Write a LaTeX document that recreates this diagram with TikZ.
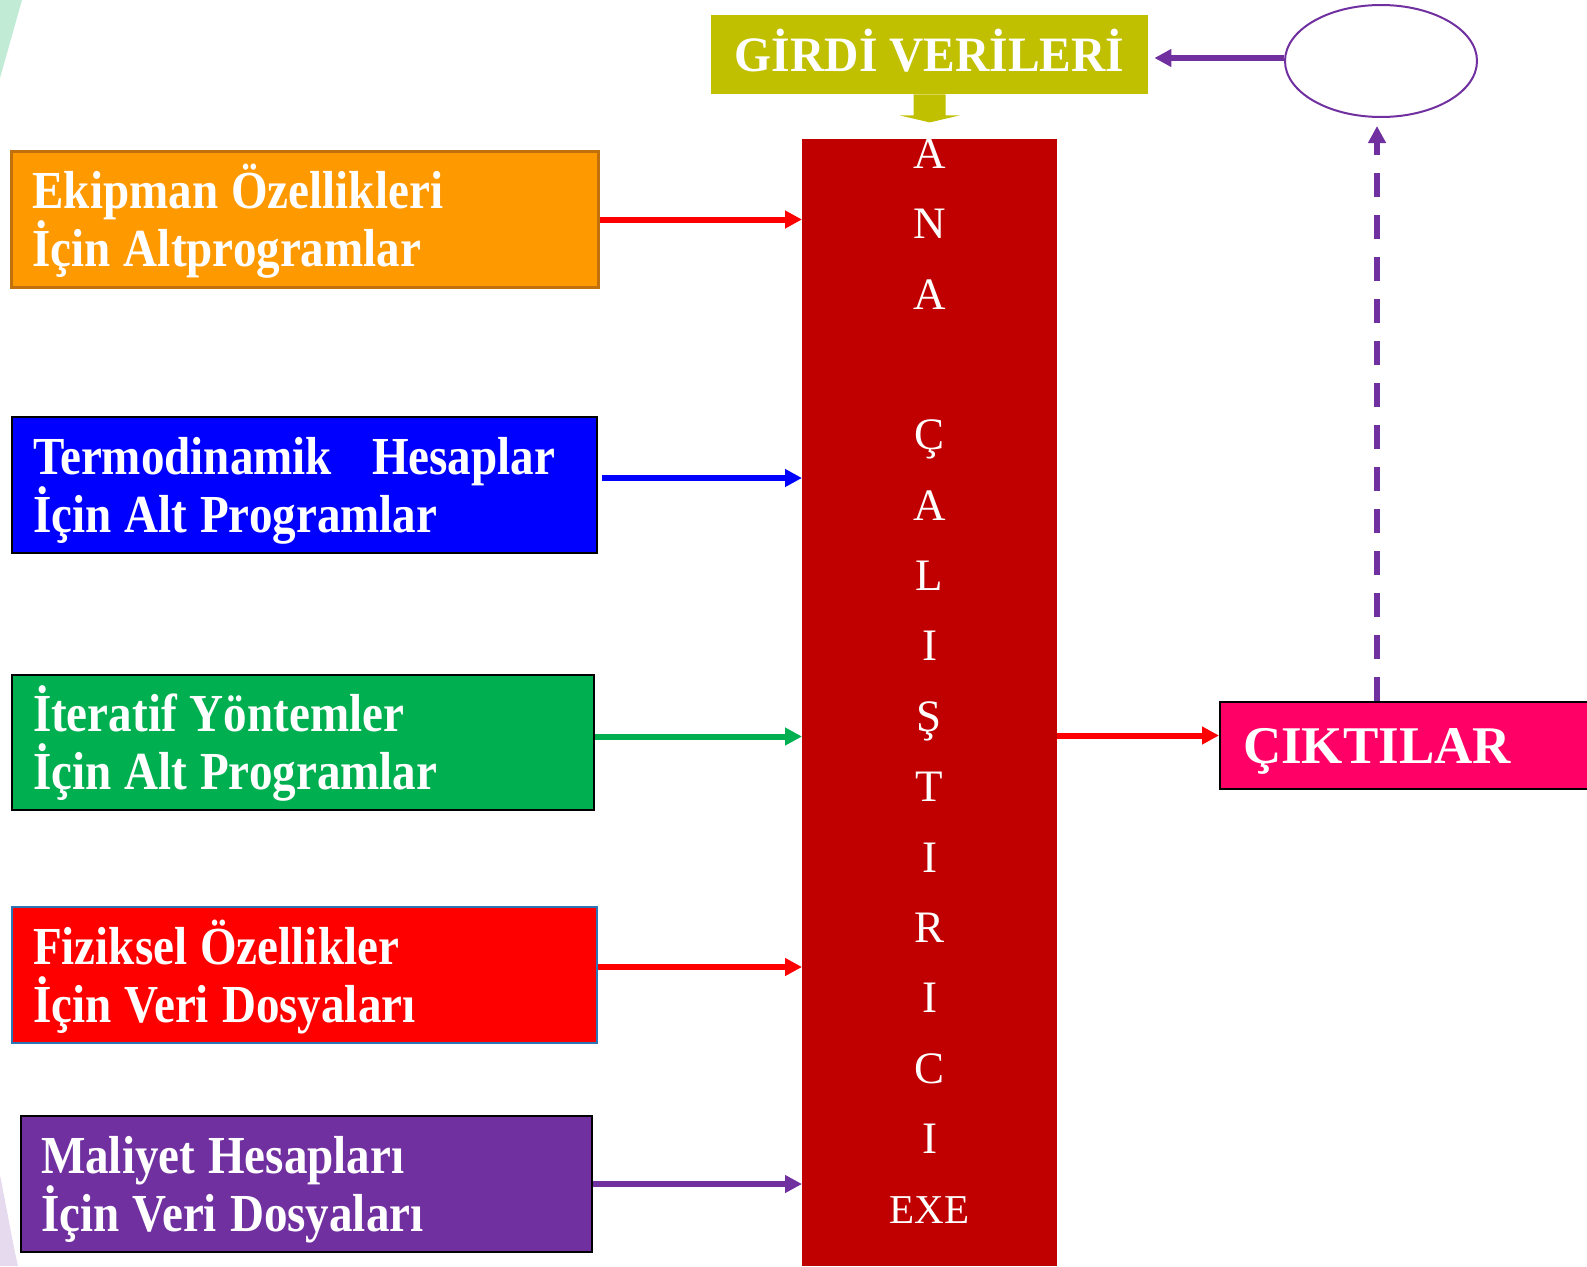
\documentclass[tikz,border=0pt]{standalone}
\usepackage{fontspec}
\setmainfont{Liberation Serif}
\newfontfamily\kutufont[FakeStretch=0.88]{Liberation Serif}
\newfontfamily\girdifont[FakeStretch=0.96]{Liberation Serif}
\newcommand\kutuyazi{\kutufont\bfseries\fontsize{53.5}{58}\selectfont}
\newcommand\ara{\hspace{13pt}}
\usepackage{xcolor}
\usetikzlibrary{arrows.meta,shapes.geometric}

\definecolor{turuncu}{HTML}{FF9900}
\definecolor{turuncukenar}{HTML}{C0700C}
\definecolor{mavi}{HTML}{0000FF}
\definecolor{yesil}{HTML}{00B050}
\definecolor{kirmizi}{HTML}{FF0000}
\definecolor{kenarmavi}{HTML}{2E75B6}
\definecolor{mor}{HTML}{7030A0}
\definecolor{koyukirmizi}{HTML}{C00000}
\definecolor{girdisari}{HTML}{C0C000}
\definecolor{pembe}{HTML}{FF0066}

\begin{document}
\begin{tikzpicture}[x=1pt,y=-1pt,
    kutu/.style={anchor=north west,draw=black,line width=2pt,text=white,
      font=\kutuyazi,align=left,
      inner xsep=21pt,minimum height=136pt,text height=36pt,text depth=58pt},
    harfstil/.style={anchor=base,text=white,inner sep=0pt,
      font=\fontsize{45}{45}\selectfont},
    ok/.style={line width=6pt,-{Triangle[length=17pt,width=17pt]}}]
  \useasboundingbox (0,0) rectangle (1587,1266);

  \fill[yesil!35,opacity=.7] (0,0) -- (22,0) -- (0,78) -- cycle;
  \fill[mor!30,opacity=.6] (0,1175) .. controls (8,1215) and (12,1240) .. (18,1266) -- (0,1266) -- cycle;

  \node[kutu,fill=turuncu,draw=turuncukenar,line width=3pt,
    text width=545pt,minimum width=587pt] (ekipman) at (10,150)
    {Ekipman\ara Özellikleri\\İçin\ara Altprogramlar};
  \node[kutu,fill=mavi,text width=543pt,minimum width=585pt] (termo) at (11,416)
    {Termodinamik\hspace{40pt}Hesaplar\\İçin\ara Alt\ara Programlar};
  \node[kutu,fill=yesil,minimum height=135pt,text width=540pt,minimum width=582pt] (iteratif) at (11,674)
    {İteratif\ara Yöntemler\\İçin\ara Alt\ara Programlar};
  \node[kutu,fill=kirmizi,draw=kenarmavi,text width=543pt,minimum width=585pt] (fiziksel) at (11,906)
    {Fiziksel\ara Özellikler\\İçin\ara Veri\ara Dosyaları};
  \node[kutu,fill=mor,inner xsep=20pt,text width=531pt,minimum width=571pt] (maliyet) at (20,1115)
    {Maliyet\ara Hesapları\\İçin\ara Veri\ara Dosyaları};

  \node[anchor=north west,fill=koyukirmizi,inner sep=0pt,
    minimum width=255pt,minimum height=1127pt] (ana) at (802,139) {};
  \foreach \harf [count=\i from 0] in {A,N,A,{},Ç,A,L,I,Ş,T,I,R,I,C,I}
    \node[harfstil] (harf\i) at (929.5,{168.5+70.35*\i}) {\harf};
  \node[harfstil,font=\fontsize{41}{41}\selectfont] (exe) at (929.5,1223.5) {EXE};

  \node[anchor=north west,fill=girdisari,text=white,inner sep=0pt,
    minimum width=437pt,minimum height=79pt,text height=34pt,text depth=0pt,
    font=\girdifont\bfseries\fontsize{49.5}{49.5}\selectfont] (girdi) at (711,15) {GİRDİ VERİLERİ};
  \fill[girdisari,shift={(girdi.south)}] (-16,0) -- (-16,21) -- (-30,21) -- (0,28)
    -- (30,21) -- (16,21) -- (16,0) -- cycle;

  \node[draw=mor,line width=2pt,ellipse,inner sep=0pt,
    minimum width=192pt,minimum height=112pt] (elips) at (1381,61) {};

  \node[anchor=north west,draw=black,line width=2pt,fill=pembe,text=white,
    align=left,inner xsep=23pt,text width=400pt,minimum height=87pt,
    text height=35pt,text depth=0pt,
    font=\bfseries\fontsize{53}{53}\selectfont] (cikti) at (1219,701) {ÇIKTILAR};

  \draw[ok,kirmizi] (ekipman.east) -- (ekipman.east -| ana.west);
  \draw[ok,mavi] ([xshift=4pt,yshift=7pt]termo.east) -- ([yshift=7pt]termo.east -| ana.west);
  \draw[ok,yesil] ([yshift=6pt]iteratif.east) -- ([yshift=6pt]iteratif.east -| ana.west);
  \draw[ok,kirmizi] ([yshift=8pt]fiziksel.east) -- ([yshift=8pt]fiziksel.east -| ana.west);
  \draw[ok,mor] (maliyet.east) -- (maliyet.east -| ana.west);
  \draw[ok,kirmizi] ([yshift=10pt]ana.east |- cikti.west) -- ([yshift=10pt]cikti.west);
  \draw[ok,mor,shorten >=6pt] ([yshift=3pt]elips.west) -- ([yshift=3pt]elips.west -| girdi.east);
  \draw[ok,mor,line width=6.5pt,dash pattern=on 24pt off 18pt,shorten >=8pt]
    ([xshift=-4pt]elips.south |- cikti.north) -- ([xshift=-4pt]elips.south);
\end{tikzpicture}
\end{document}
